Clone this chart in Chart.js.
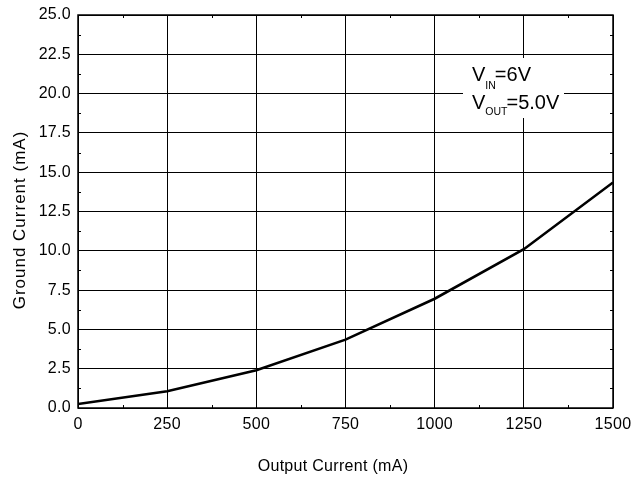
<!DOCTYPE html>
<html>
<head>
<meta charset="utf-8">
<script src="https://cdn.jsdelivr.net/npm/chart.js@4.4.1/dist/chart.umd.min.js"></script>
<style>
  html, body { margin: 0; padding: 0; background: #fff; }
  #wrap { width: 631px; height: 483px; position: relative; }
</style>
</head>
<body>
<div id="wrap"><canvas id="c" width="631" height="483"></canvas></div>
<script>
const outputCurrent = [0, 250, 500, 750, 1000, 1250, 1500];
const groundCurrent = [0.25, 1.07, 2.4, 4.35, 6.95, 10.1, 14.35];
const xTicks = [0, 250, 500, 750, 1000, 1250, 1500];
const yTicks = [0, 2.5, 5, 7.5, 10, 12.5, 15, 17.5, 20, 22.5, 25];
const xTitle = 'Output Current (mA)';
const yTitle = 'Ground Current (mA)';
const noteLines = [['V', 'IN', '=6V'], ['V', 'OUT', '=5.0V']];

const FONT = '"Liberation Sans", Arial, sans-serif';

const frame = {
  id: 'frame',
  beforeDraw(chart) {
    chart.ctx.letterSpacing = '0.3px';
  },
  afterDatasetsDraw(chart) {
    const {ctx, chartArea: a, scales: {x, y}} = chart;
    ctx.save();
    ctx.strokeStyle = '#000';
    ctx.lineWidth = 1;
    ctx.beginPath();
    // minor ticks
    for (let i = 0; i < xTicks.length - 1; i++) {
      const v = (xTicks[i] + xTicks[i + 1]) / 2;
      const px = Math.round(x.getPixelForValue(v)) + 0.5;
      ctx.moveTo(px, a.bottom); ctx.lineTo(px, a.bottom - 3);
      ctx.moveTo(px, a.top); ctx.lineTo(px, a.top + 3);
    }
    for (let i = 0; i < yTicks.length - 1; i++) {
      const v = (yTicks[i] + yTicks[i + 1]) / 2;
      const py = Math.round(y.getPixelForValue(v)) + 0.5;
      ctx.moveTo(a.left, py); ctx.lineTo(a.left + 3, py);
      ctx.moveTo(a.right, py); ctx.lineTo(a.right - 3, py);
    }
    ctx.stroke();
    ctx.lineWidth = 1.5;
    ctx.strokeRect(a.left, a.top, a.right - a.left, a.bottom - a.top);

    // annotation box
    ctx.fillStyle = '#fff';
    ctx.fillRect(463, 58, 101, 60);
    ctx.fillStyle = '#000';
    ctx.textBaseline = 'alphabetic';
    ctx.textAlign = 'left';
    ctx.letterSpacing = '0px';
    const bases = [81, 108.5];
    const subOff = [7.5, 6];
    noteLines.forEach((ln, i) => {
      const base = bases[i];
      let cx = 472;
      ctx.font = '20px ' + FONT;
      ctx.fillText(ln[0], cx, base);
      cx += ctx.measureText(ln[0]).width;
      ctx.font = '10.5px ' + FONT;
      ctx.fillText(ln[1], cx, base + subOff[i]);
      cx += ctx.measureText(ln[1]).width - 1;
      ctx.font = '20px ' + FONT;
      ctx.fillText(ln[2], cx, base);
    });

    // axis titles
    ctx.textAlign = 'center';
    ctx.textBaseline = 'middle';
    ctx.font = '16px ' + FONT;
    ctx.letterSpacing = '0.3px';
    ctx.fillText(xTitle, 333, 467);
    ctx.save();
    ctx.translate(20, 220);
    ctx.rotate(-Math.PI / 2);
    ctx.font = '17px ' + FONT;
    ctx.letterSpacing = '1px';
    ctx.fillText(yTitle, 0, 0);
    ctx.restore();
    ctx.restore();
  }
};

new Chart(document.getElementById('c'), {
  type: 'line',
  data: {
    datasets: [{
      data: outputCurrent.map((v, i) => ({x: v, y: groundCurrent[i]})),
      borderColor: '#000',
      borderWidth: 2.6,
      pointRadius: 0,
      tension: 0,
      fill: false
    }]
  },
  options: {
    responsive: false,
    animation: false,
    devicePixelRatio: 1,
    layout: { padding: { top: 15, right: 18, left: 0, bottom: 0 } },
    plugins: { legend: { display: false }, tooltip: { enabled: false } },
    scales: {
      x: {
        type: 'linear', min: 0, max: 1500,
        afterBuildTicks: s => { s.ticks = xTicks.map(v => ({value: v})); },
        afterFit: s => { s.height = 75; s.paddingLeft = 0; s.paddingRight = 0; },
        grid: { color: '#000', lineWidth: 1, drawTicks: false },
        border: { display: false },
        ticks: { color: '#000', font: { family: FONT, size: 16 }, padding: 7, maxRotation: 0,
                 callback: v => String(v) },
        title: { display: false }
      },
      y: {
        type: 'linear', min: 0, max: 25,
        afterBuildTicks: s => { s.ticks = yTicks.map(v => ({value: v})); },
        afterFit: s => { s.width = 78; s.paddingTop = 0; s.paddingBottom = 0; },
        grid: { color: '#000', lineWidth: 1, drawTicks: false },
        border: { display: false },
        ticks: { color: '#000', font: { family: FONT, size: 16 }, padding: 7,
                 callback: v => v.toFixed(1) },
        title: { display: false }
      }
    }
  },
  plugins: [frame]
});
</script>
</body>
</html>
